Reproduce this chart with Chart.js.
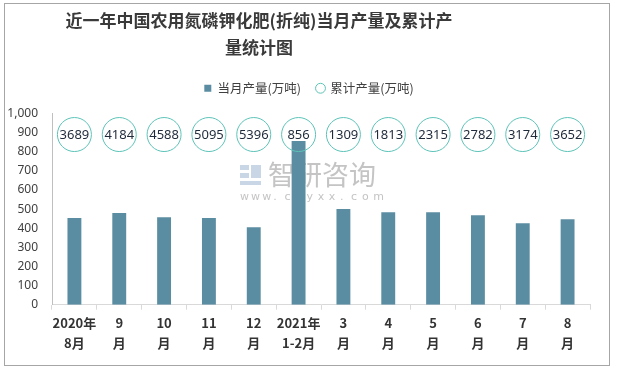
<!DOCTYPE html>
<html><head><meta charset="utf-8">
<script src="https://cdn.jsdelivr.net/npm/chart.js@4/dist/chart.umd.min.js"></script>
<style>
html,body{margin:0;padding:0;background:#fff;}
#wrap{position:relative;width:619px;height:368px;overflow:hidden;}
#frame{position:absolute;left:4px;top:3px;width:604px;height:361px;border:1px solid #a6a6a6;pointer-events:none;}
#title{position:absolute;left:0;top:6px;width:518px;text-align:center;font-family:"Noto Sans CJK SC",sans-serif;font-weight:bold;font-size:17px;line-height:27px;color:#3a3a3a;}
canvas{position:absolute;left:0;top:0;}
</style></head>
<body><div id="wrap">
<canvas id="c" width="619" height="368"></canvas>
<div id="title">近一年中国农用氮磷钾化肥(折纯)当月产量及累计产<br>量统计图</div>
<div id="frame"></div>
</div>
<script>
const categories = [['2020年','8月'],['9','月'],['10','月'],['11','月'],['12','月'],['2021年','1-2月'],['3','月'],['4','月'],['5','月'],['6','月'],['7','月'],['8','月']];
const monthly = [453, 479, 458, 453, 405, 856, 500, 484, 484, 468, 426, 447];
const cumulative = [3689, 4184, 4588, 5095, 5396, 856, 1309, 1813, 2315, 2782, 3174, 3652];
const yTicks = {min: 0, max: 1000, step: 100};
const LABEL_ROW = 890; // height of the cumulative-label circles on the value axis

const cumLabels = {
  id: 'cumLabels',
  afterDatasetsDraw(chart) {
    const meta = chart.getDatasetMeta(1);
    const ctx = chart.ctx;
    ctx.save();
    ctx.font = '13px "Noto Sans", "DejaVu Sans", sans-serif';
    ctx.fillStyle = '#1f2a3a';
    ctx.textAlign = 'center';
    ctx.textBaseline = 'middle';
    meta.data.forEach((pt, i) => ctx.fillText(String(cumulative[i]), pt.x, pt.y + 1));
    ctx.restore();
  }
};
const legendGap = {
  id: 'legendGap',
  beforeInit(chart) {
    const lg = chart.legend;
    const fit = lg.fit;
    lg.fit = function () { fit.call(this); this.height += 9; };
    const draw = lg.draw;
    lg.draw = function () { this.ctx.save(); this.ctx.translate(12, 0); draw.call(this); this.ctx.restore(); };
  }
};
const watermark = {
  id: 'watermark',
  beforeDatasetsDraw(chart) {
    const ctx = chart.ctx;
    ctx.save();
    ctx.fillStyle = '#c9d6e6';
    ctx.fillRect(240, 165, 9, 5);
    ctx.fillRect(240, 173, 9, 5);
    ctx.fillRect(251, 165, 10, 13);
    ctx.fillRect(240, 181, 21, 4);
    ctx.fillStyle = '#c4c4c4';
    ctx.font = '27px "Noto Sans CJK SC", sans-serif';
    ctx.textBaseline = 'middle';
    ctx.textAlign = 'left';
    ctx.fillText('智研咨询', 268, 175);
    ctx.font = '11px "DejaVu Sans", sans-serif';
    const s = 'www.chyxx.com';
    for (let i = 0; i < s.length; i++) ctx.fillText(s[i], 240 + i * 11.1, 197);
    ctx.restore();
  }
};

new Chart(document.getElementById('c'), {
  data: {
    labels: categories,
    datasets: [
      {type: 'bar', label: '当月产量(万吨)', data: monthly, backgroundColor: '#5b8da2',
       barPercentage: 0.62, categoryPercentage: 0.5, order: 2, pointStyle: 'rect'},
      {type: 'line', label: '累计产量(万吨)', data: cumulative.map(() => LABEL_ROW), showLine: false,
       pointRadius: 17, pointHoverRadius: 17, pointBorderWidth: 1, pointBorderColor: '#5cc3b8',
       pointBackgroundColor: 'rgba(255,255,255,0)', borderColor: '#5cc3b8', backgroundColor: 'rgba(255,255,255,0)',
       order: 1, pointStyle: 'circle'}
    ]
  },
  options: {
    responsive: false, animation: false,
    layout: {padding: {left: 4, right: 29, top: 66, bottom: 12}},
    plugins: {
      title: {display: false},
      tooltip: {enabled: false},
      legend: {
        display: true, position: 'top',
        labels: {usePointStyle: true, boxWidth: 7, boxHeight: 7, padding: 16, color: '#404040',
          font: {size: 12.5, family: '"Noto Sans CJK SC", sans-serif'},
          sort: (a, b) => a.datasetIndex - b.datasetIndex,
          generateLabels(chart) {
            const items = Chart.defaults.plugins.legend.labels.generateLabels(chart);
            items.forEach(it => {
              if (it.datasetIndex === 0) { it.fillStyle = '#5b8da2'; it.strokeStyle = '#5b8da2'; it.pointStyle = 'rect'; }
              else { it.fillStyle = '#fff'; it.strokeStyle = '#5cc3b8'; it.pointStyle = 'circle'; it.lineWidth = 1; }
            });
            return items;
          }
        }
      }
    },
    scales: {
      x: {
        grid: {display: true, drawOnChartArea: false, offset: true, tickLength: 5, color: '#d9d9d9'},
        border: {display: true, color: '#d9d9d9'},
        ticks: {color: '#333', font: {size: 13, weight: 'bold', family: '"Noto Sans CJK SC", sans-serif', lineHeight: 1.55}, maxRotation: 0, autoSkip: false, padding: 3}
      },
      y: {
        min: yTicks.min, max: yTicks.max,
        afterFit(scale) { scale.width = 48; },
        grid: {display: false},
        border: {display: true, color: '#bfbfbf'},
        ticks: {stepSize: yTicks.step, color: '#404040', padding: 6,
          font: {size: 12, family: '"Noto Sans", sans-serif'},
          callback: v => v.toLocaleString('en-US')}
      }
    }
  },
  plugins: [legendGap, watermark, cumLabels]
});
</script>
</body></html>
